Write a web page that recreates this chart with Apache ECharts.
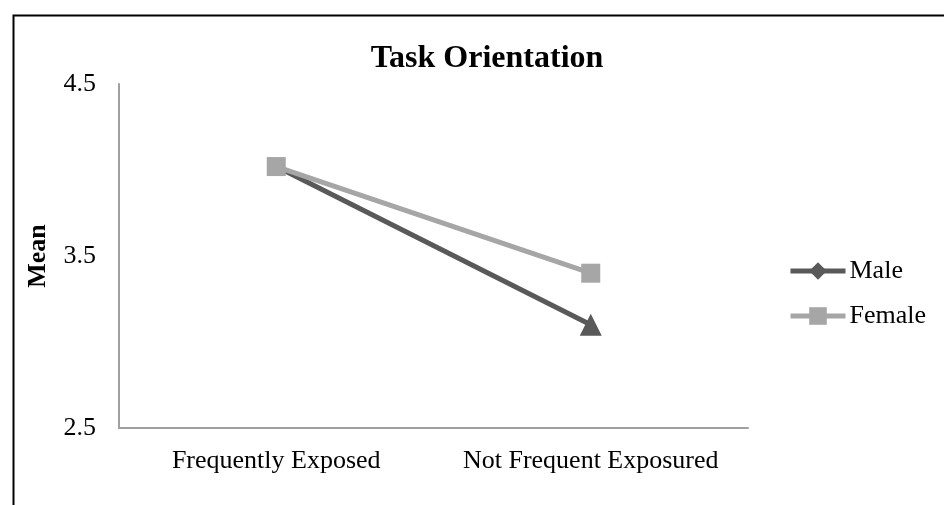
<!DOCTYPE html>
<html>
<head>
<meta charset="utf-8">
<script src="https://cdn.jsdelivr.net/npm/echarts@6/dist/echarts.min.js"></script>
<style>
  html, body { margin: 0; padding: 0; background: #fff; }
  #chart { width: 944px; height: 505px; }
</style>
</head>
<body>
<div id="chart"></div>
<script>
const categories = ['Frequently Exposed', 'Not Frequent Exposured']
const maleValues = [4.02, 3.1]
const femaleValues = [4.02, 3.4]
// Excel-style per-point markers for Male: diamond then triangle
const maleSymbols = ['diamond', 'triangle']

const FONT = 'Liberation Serif'
const chart = echarts.init(document.getElementById('chart'))

chart.setOption({
  animation: false,
  backgroundColor: '#fff',
  graphic: [{
    type: 'rect',
    left: 11,
    top: 13,
    shape: { width: 1000, height: 600 },
    style: { fill: 'none', stroke: '#000', lineWidth: 2 },
    silent: true
  }],
  title: {
    text: 'Task Orientation',
    left: 482,
    textAlign: 'center',
    top: 38,
    textStyle: { fontFamily: FONT, fontSize: 32, fontWeight: 'bold', color: '#000' }
  },
  grid: {
    left: 119,
    right: 196,
    top: 84,
    bottom: 77,
    containLabel: false
  },
  legend: {
    orient: 'vertical',
    left: 788,
    top: 258,
    padding: 0,
    itemWidth: 55,
    itemHeight: 22,
    itemGap: 19,
    data: ['Male', 'Female'],
    lineStyle: { width: 5 },
    textStyle: { fontFamily: FONT, fontSize: 26, color: '#000', padding: [0, 0, 0, -1] }
  },
  xAxis: {
    type: 'category',
    data: categories,
    boundaryGap: true,
    axisLine: { lineStyle: { color: '#a0a0a0', width: 2 } },
    axisTick: { show: false },
    axisLabel: { fontFamily: FONT, fontSize: 26, color: '#000', margin: 20, interval: 0 }
  },
  yAxis: {
    type: 'value',
    min: 2.5,
    max: 4.5,
    interval: 1,
    name: 'Mean',
    nameLocation: 'middle',
    nameGap: 68,
    nameTextStyle: { fontFamily: FONT, fontSize: 26, fontWeight: 'bold', color: '#000' },
    axisLine: { show: true, lineStyle: { color: '#a0a0a0', width: 2 } },
    axisTick: { show: false },
    splitLine: { show: false },
    axisLabel: {
      fontFamily: FONT, fontSize: 26, color: '#000', margin: 23,
      formatter: v => v.toFixed(1)
    }
  },
  series: [
    {
      name: 'Male',
      type: 'line',
      symbol: 'diamond',
      symbolSize: 18,
      lineStyle: { color: '#595959', width: 5 },
      itemStyle: { color: '#595959' },
      data: maleValues.map((v, i) => ({
        value: v,
        symbol: maleSymbols[i],
        symbolSize: maleSymbols[i] === 'triangle' ? 22 : 18
      }))
    },
    {
      name: 'Female',
      type: 'line',
      symbol: 'rect',
      symbolSize: 19,
      lineStyle: { color: '#a6a6a6', width: 5 },
      itemStyle: { color: '#a6a6a6' },
      data: femaleValues
    }
  ]
})
</script>
</body>
</html>
